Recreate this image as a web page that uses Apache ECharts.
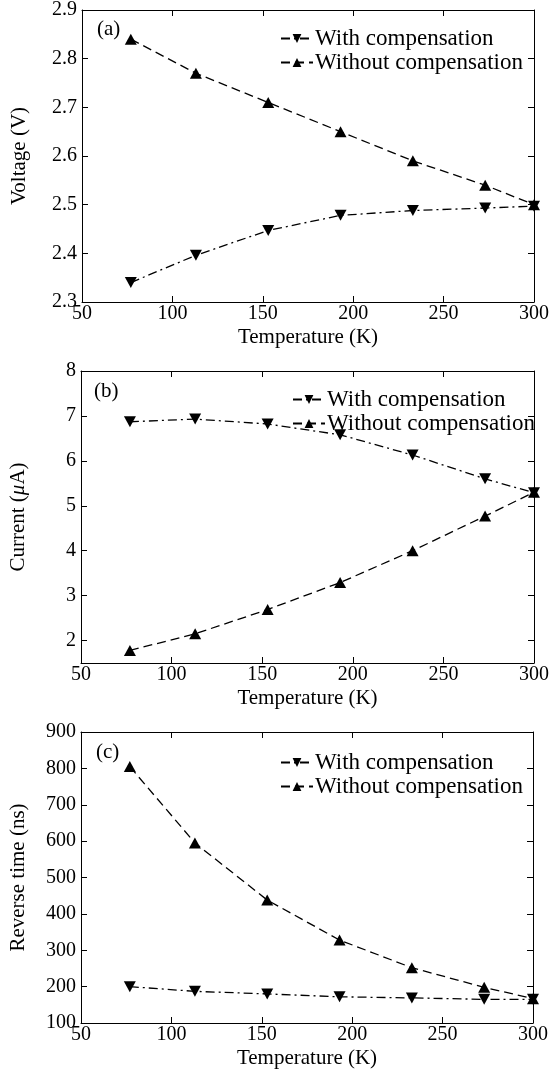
<!DOCTYPE html>
<html>
<head>
<meta charset="utf-8">
<script src="https://cdn.jsdelivr.net/npm/echarts@6/dist/echarts.min.js"></script>
<style>
  html,body{margin:0;padding:0;background:#fff;}
  #chart{width:552px;height:1079px;}
</style>
</head>
<body>
<div id="chart"></div>
<script>
  // temperatures (K)
  var temps = [77, 113, 153, 193, 233, 273, 300];

  // (a) voltage
  var voltWith = [2.34, 2.396, 2.447, 2.478, 2.488, 2.493, 2.497];
  var voltWithout = [2.84, 2.77, 2.71, 2.65, 2.59, 2.54, 2.50];

  // (b) current
  var currWith = [6.87, 6.93, 6.82, 6.58, 6.13, 5.6, 5.29];
  var currWithout = [1.78, 2.15, 2.69, 3.29, 4.0, 4.77, 5.3];

  // (c) reverse time
  var revWith = [200, 187, 180, 172, 169, 165, 165];
  var revWithout = [805, 595, 438, 328, 252, 198, 167];

  var currTicks = [2, 3, 4, 5, 6, 7, 8];

  var FONT = 'Liberation Serif';
  var names = ['With compensation', 'Without compensation'];

  function pairs(ys){
    return temps.map(function(t, i){ return [t, ys[i]]; });
  }

  var grids = [
    {left: 82, top: 9, width: 453, height: 293},
    {left: 79, top: 371, width: 456, height: 292},
    {left: 81, top: 732, width: 452, height: 291}
  ];

  var yCfg = [
    {name: 'Voltage (V)', min: 2.3, max: 2.9, interval: 0.1},
    {name: 'Current ({i|μ}A)', min: 1.5, max: 8, custom: currTicks},
    {name: 'Reverse time (ns)', min: 100, max: 900, interval: 100}
  ];

  var panelData = [
    [voltWith, voltWithout],
    [currWith, currWithout],
    [revWith, revWithout]
  ];

  var xAxis = [], yAxis = [], series = [], titles = [], legends = [];
  var legendPos = [
    {left: 275, top: 22},
    {left: 287, top: 383},
    {left: 275, top: 746}
  ];

  grids.forEach(function(g, k){
    // bottom axis with labels
    xAxis.push({
      gridIndex: k, type: 'value', min: 50, max: 300, interval: 50,
      name: 'Temperature (K)', nameLocation: 'middle', nameGap: 25,
      nameTextStyle: {fontFamily: FONT, fontSize: 21, color: '#000'},
      axisLine: {lineStyle: {color: '#000', width: 1}},
      axisTick: {inside: true, length: 6, lineStyle: {color: '#000'}},
      axisLabel: {fontFamily: FONT, fontSize: 20, color: '#000', margin: 2},
      splitLine: {show: false}
    });
    // top axis, ticks only
    xAxis.push({
      gridIndex: k, type: 'value', position: 'top', min: 50, max: 300, interval: 50,
      axisLine: {lineStyle: {color: '#000', width: 1}},
      axisTick: {inside: true, length: 6, lineStyle: {color: '#000'}},
      axisLabel: {show: false},
      splitLine: {show: false}
    });

    var c = yCfg[k];
    var left = {
      gridIndex: k, type: 'value', min: c.min, max: c.max,
      name: c.name, nameLocation: 'middle', nameGap: 52, nameRotate: 90,
      nameTextStyle: {fontFamily: FONT, fontSize: 21, color: '#000',
        rich: {i: {fontFamily: FONT, fontSize: 21, fontStyle: 'italic', color: '#000'}}},
      axisLine: {lineStyle: {color: '#000', width: 1}},
      axisTick: {inside: true, length: 6, lineStyle: {color: '#000'}},
      axisLabel: {fontFamily: FONT, fontSize: 20, color: '#000', margin: 5},
      splitLine: {show: false}
    };
    var right = {
      gridIndex: k, type: 'value', position: 'right', min: c.min, max: c.max,
      axisLine: {lineStyle: {color: '#000', width: 1}},
      axisTick: {inside: true, length: 6, lineStyle: {color: '#000'}},
      axisLabel: {show: false},
      splitLine: {show: false}
    };
    if (c.custom) {
      left.axisTick.customValues = c.custom;
      left.axisLabel.customValues = c.custom;
      right.axisTick.customValues = c.custom;
      right.axisLabel.customValues = c.custom;
      left.interval = 0.5;
      right.interval = 0.5;
    } else {
      left.interval = c.interval;
      right.interval = c.interval;
    }
    yAxis.push(left, right);

    // with compensation: dash-dot, down triangles
    series.push({
      name: names[0], type: 'line', xAxisIndex: k * 2, yAxisIndex: k * 2,
      data: pairs(panelData[k][0]),
      symbol: 'triangle', symbolRotate: 180, symbolSize: [12, 11],
      itemStyle: {color: '#000'},
      lineStyle: {color: '#000', width: 1.3, type: [9, 4, 2, 4]}
    });
    // without compensation: dashed, up triangles
    series.push({
      name: names[1], type: 'line', xAxisIndex: k * 2, yAxisIndex: k * 2,
      data: pairs(panelData[k][1]),
      symbol: 'triangle', symbolSize: [12, 11],
      itemStyle: {color: '#000'},
      lineStyle: {color: '#000', width: 1.3, type: [9, 5]}
    });

    titles.push({
      text: '(' + 'abc'[k] + ')', left: g.left + 10, top: g.top + 5,
      textStyle: {fontFamily: FONT, fontSize: 21, fontWeight: 'normal', color: '#000'}
    });

    legends.push({
      data: names, orient: 'vertical', left: legendPos[k].left, top: legendPos[k].top,
      itemWidth: 32, itemHeight: 11, itemGap: 1,
      textStyle: {fontFamily: FONT, fontSize: 23, color: '#000', padding: [0, 0, 0, -3]},
      selectedMode: false
    });
  });

  var chart = echarts.init(document.getElementById('chart'));
  chart.setOption({
    backgroundColor: '#fff',
    animation: false,
    title: titles,
    legend: legends,
    grid: grids,
    xAxis: xAxis,
    yAxis: yAxis,
    series: series
  });
</script>
</body>
</html>
